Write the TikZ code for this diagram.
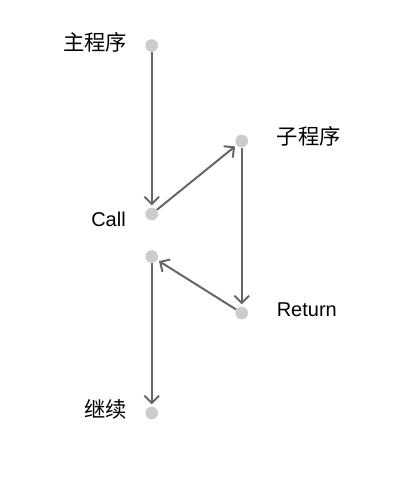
\documentclass[tikz,border=0pt]{standalone}
\usepackage{fontspec}
\setmainfont{Liberation Sans}
\newfontfamily\cjk{Noto Sans CJK SC}
\usetikzlibrary{arrows.meta}
\definecolor{dotgray}{HTML}{CCCCCC}
\definecolor{linegray}{HTML}{666666}
\begin{document}
\begin{tikzpicture}[x=0.75pt,y=-0.75pt,
  dot/.style={circle,fill=dotgray,draw=none,minimum size=9.5pt,inner sep=0pt},
  flow/.style={draw=linegray,line width=1.5pt,-{Straight Barb[length=5.5pt,width=11pt,line width=1.5pt]},shorten >=1.5pt},
  lbl/.style={inner sep=0pt,font=\fontsize{15pt}{18pt}\selectfont,text=black},
  cjklbl/.style={inner sep=0pt,font=\cjk\fontsize{16pt}{19pt}\selectfont,text=black}]
\useasboundingbox (0,0) rectangle (420,480);
\node[dot] (main) at (151.7,45.5) {};
\node[dot] (call) at (151.7,214) {};
\node[dot] (sub) at (241.7,141) {};
\node[dot] (ret) at (241.7,313) {};
\node[dot] (back) at (151.7,256.5) {};
\node[dot] (cont) at (151.7,413) {};
\draw[flow] (main) -- (call);
\draw[flow] (call) -- (sub);
\draw[flow] (sub) -- (ret);
\draw[flow] (ret) -- (back);
\draw[flow] (back) -- (cont);
\node[cjklbl,anchor=east] (tmain) at (127.5,42.5) {主程序};
\node[cjklbl,anchor=west] (tsub) at (276.5,136) {子程序};
\node[lbl,anchor=base east] (tcall) at (126,226.5) {Call};
\node[lbl,anchor=base west] (tret) at (276.5,316) {Return};
\node[cjklbl,anchor=east] (tcont) at (127.5,409) {继续};
\end{tikzpicture}
\end{document}
